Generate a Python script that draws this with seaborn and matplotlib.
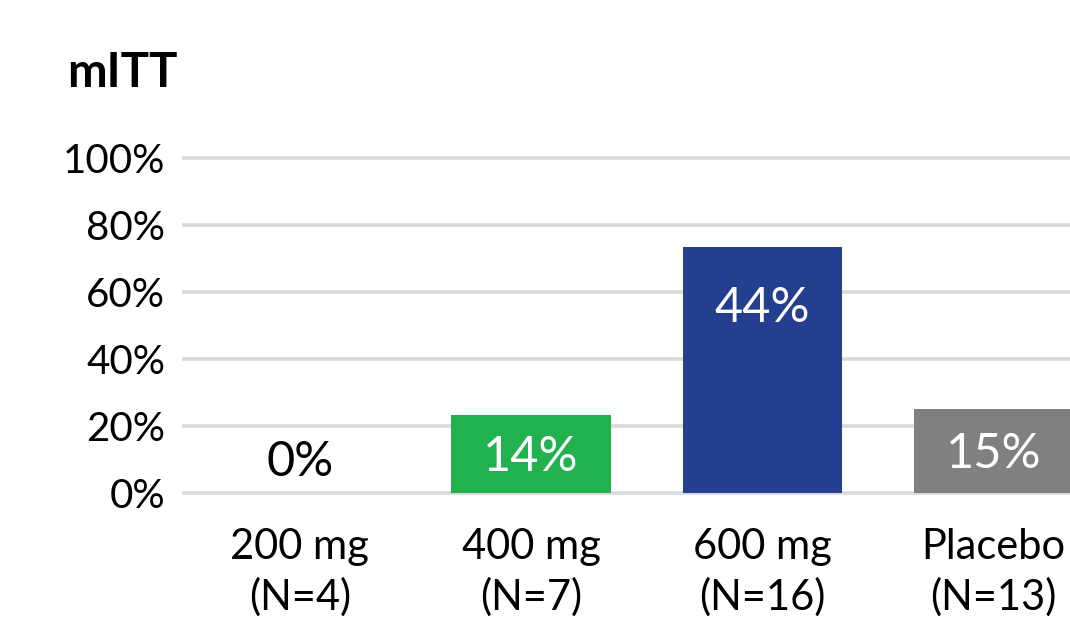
import numpy as np
import matplotlib
matplotlib.use("Agg")
import matplotlib.pyplot as plt
import seaborn as sns

# Response rates by dose group (mITT population)
groups = ["200 mg\n(N=4)", "400 mg\n(N=7)", "600 mg\n(N=16)", "Placebo\n(N=13)"]
rates = [0, 14, 44, 15]
bar_colors = ["#FFFFFF", "#21B14F", "#243F8F", "#808080"]
label_colors = ["black", "white", "white", "white"]
tick_labels = ["0%", "20%", "40%", "60%", "80%", "100%"]
axis_top = 60  # value shown at the top gridline

sns.set_theme(style="white")
plt.rcParams["font.family"] = ["Lato", "DejaVu Sans"]
plt.rcParams["text.color"] = "black"
plt.rcParams["xtick.color"] = "black"
plt.rcParams["ytick.color"] = "black"

W, H = 1070, 619
fig = plt.figure(figsize=(W / 100, H / 100), dpi=100)

px_per_unit = 335 / axis_top
y0_px = 493 + px_per_unit      # bottom of axes (ylim -1)
y1_px = 158 - px_per_unit      # top of axes (ylim top+1)
ax = fig.add_axes([182 / W, (H - y0_px) / H, (W - 182) / W, (y0_px - y1_px) / H])

sns.barplot(x=groups, y=rates, hue=groups, palette=bar_colors, width=0.69,
            saturation=1, legend=False, linewidth=0, ax=ax, zorder=2)

ax.set_xlim(-0.51, 3.33)
ax.set_ylim(-1, axis_top + 1)
ax.set_yticks(np.linspace(0, axis_top, len(tick_labels)))
ax.set_yticklabels(tick_labels, fontsize=29)
ax.yaxis.grid(True, color="#D9D9D9", linewidth=2.6, zorder=0)
ax.set_axisbelow(True)
ax.tick_params(axis="y", length=0, pad=12)
ax.tick_params(axis="x", length=0, pad=21, labelsize=30)
for lbl in ax.get_xticklabels():
    lbl.set_linespacing(1.35)
ax.set_xlabel("")
ax.set_ylabel("")
sns.despine(ax=ax, left=True, bottom=True, top=True, right=True)

# Value labels inside (or just above) each bar
for i, (v, c) in enumerate(zip(rates, label_colors)):
    y = max(v - 10.9, v / 2 - 0.6, 5.5)
    ax.text(i, y, f"{v}%", ha="center", va="center", fontsize=35,
            color=c, zorder=3)

fig.text(67 / W, 1 - 87 / H, "mITT", fontsize=34, fontweight="bold",
         ha="left", va="baseline")

fig.savefig("out.png", dpi=100)
